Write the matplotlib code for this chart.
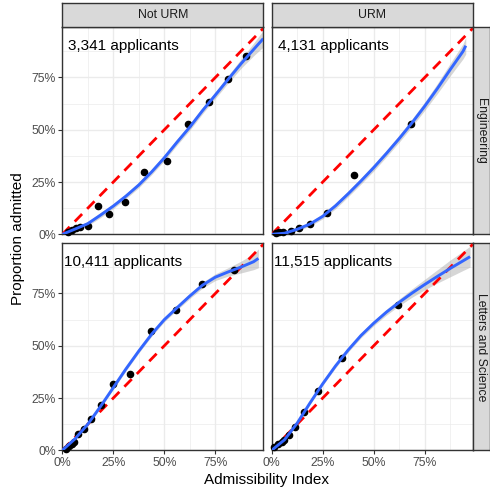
import numpy as np
import matplotlib
matplotlib.use("Agg")
import matplotlib.pyplot as plt
from matplotlib.ticker import FuncFormatter

plt.rcParams["font.family"] = ["Liberation Sans", "DejaVu Sans"]

# facet labels
col_labels = ["Not URM", "URM"]
row_labels = ["Engineering", "Letters and Science"]
n_labels = [["3,341 applicants", "4,131 applicants"],
            ["10,411 applicants", "11,515 applicants"]]

# binned points: admissibility index vs proportion admitted
eng_not_x = [0.029, 0.046, 0.065, 0.087, 0.124, 0.173, 0.230, 0.307, 0.402, 0.515, 0.614, 0.719, 0.810, 0.900]
eng_not_y = [0.013, 0.019, 0.032, 0.037, 0.041, 0.137, 0.096, 0.154, 0.299, 0.349, 0.527, 0.635, 0.744, 0.852]
eng_urm_x = [0.020, 0.038, 0.057, 0.095, 0.132, 0.188, 0.270, 0.404, 0.681]
eng_urm_y = [0.006, 0.010, 0.013, 0.014, 0.029, 0.048, 0.100, 0.282, 0.527]
ls_not_x = [0.016, 0.033, 0.049, 0.059, 0.078, 0.106, 0.141, 0.188, 0.250, 0.330, 0.436, 0.557, 0.686, 0.843]
ls_not_y = [0.008, 0.019, 0.029, 0.038, 0.076, 0.100, 0.148, 0.218, 0.315, 0.365, 0.572, 0.672, 0.795, 0.863]
ls_urm_x = [0.013, 0.029, 0.049, 0.062, 0.085, 0.114, 0.158, 0.225, 0.343, 0.621]
ls_urm_y = [0.016, 0.029, 0.040, 0.048, 0.075, 0.111, 0.183, 0.282, 0.443, 0.696]

# smoothed fits (value and standard-error band half width)
grid = [0, 0.0625, 0.125, 0.1875, 0.25, 0.3125, 0.375, 0.4375, 0.5, 0.5625, 0.625, 0.6875, 0.75, 0.8125, 0.875, 0.9375]
eng_not_fit = [0.0, 0.025, 0.051, 0.092, 0.135, 0.183, 0.236, 0.298, 0.366, 0.441, 0.513, 0.592, 0.666, 0.741, 0.815, 0.884]
eng_not_se = [0.008, 0.008, 0.01, 0.012, 0.012, 0.012, 0.013, 0.013, 0.014, 0.014, 0.015, 0.015, 0.016, 0.018, 0.022, 0.03]
eng_not_end = (0.985, 0.936, 0.04)
eng_urm_fit = [0.0, 0.005, 0.024, 0.049, 0.086, 0.136, 0.194, 0.255, 0.319, 0.387, 0.458, 0.533, 0.613, 0.698, 0.788, 0.875]
eng_urm_se = [0.006, 0.006, 0.008, 0.01, 0.012, 0.014, 0.014, 0.015, 0.016, 0.016, 0.017, 0.018, 0.02, 0.024, 0.03, 0.036]
eng_urm_end = (0.951, 0.902, 0.04)
ls_not_fit = [0.0, 0.055, 0.125, 0.21, 0.30, 0.39, 0.475, 0.555, 0.625, 0.682, 0.738, 0.79, 0.828, 0.853, 0.876, 0.902]
ls_not_se = [0.006, 0.006, 0.007, 0.008, 0.008, 0.009, 0.009, 0.01, 0.01, 0.011, 0.012, 0.014, 0.016, 0.02, 0.028, 0.038]
ls_not_end = (0.961, 0.918, 0.045)
ls_urm_fit = [0.0, 0.05, 0.13, 0.226, 0.318, 0.403, 0.48, 0.549, 0.608, 0.661, 0.708, 0.752, 0.793, 0.832, 0.87, 0.906]
ls_urm_se = [0.005, 0.005, 0.006, 0.007, 0.008, 0.009, 0.01, 0.011, 0.012, 0.014, 0.016, 0.02, 0.025, 0.032, 0.04, 0.046]
ls_urm_end = (0.972, 0.926, 0.05)

points = [[(eng_not_x, eng_not_y), (eng_urm_x, eng_urm_y)],
          [(ls_not_x, ls_not_y), (ls_urm_x, ls_urm_y)]]
fits = [[(eng_not_fit, eng_not_se, eng_not_end), (eng_urm_fit, eng_urm_se, eng_urm_end)],
        [(ls_not_fit, ls_not_se, ls_not_end), (ls_urm_fit, ls_urm_se, ls_urm_end)]]

xmax, ymax = 0.985, 0.99
W, H = 490, 491
lefts = [62.3, 271.7]
tops = [27.3, 243.3]
pw, ph = 201, 207

fig = plt.figure(figsize=(W / 100, H / 100), dpi=100)
pct = FuncFormatter(lambda v, p: f"{v * 100:.0f}%")

for r in range(2):
    for c in range(2):
        ax = fig.add_axes([lefts[c] / W, 1 - (tops[r] + ph) / H, pw / W, ph / H])
        ax.set_xlim(0, xmax)
        ax.set_ylim(0, ymax)
        ticks = [0, 0.25, 0.5, 0.75]
        minor = [0.125, 0.375, 0.625, 0.875]
        ax.set_xticks(ticks)
        ax.set_yticks(ticks)
        ax.set_xticks(minor, minor=True)
        ax.set_yticks(minor, minor=True)
        ax.grid(True, which="major", color="#EBEBEB", lw=1.0)
        ax.grid(True, which="minor", color="#EBEBEB", lw=0.5)
        ax.set_axisbelow(True)
        for s in ax.spines.values():
            s.set_color("#333333")
            s.set_linewidth(1.0)
        ax.tick_params(which="minor", length=0)
        ax.tick_params(which="major", length=3, width=0.8, color="#333333",
                       labelsize=8.8, labelcolor="#4D4D4D", pad=1.5)
        ax.xaxis.set_major_formatter(pct)
        ax.yaxis.set_major_formatter(pct)
        if r == 0:
            ax.tick_params(axis="x", length=0, labelbottom=False)
        if c == 1:
            ax.tick_params(axis="y", length=0, labelleft=False)

        fit, se, end = fits[r][c]
        fx = grid + [end[0]]
        fy = np.array(fit + [end[1]])
        fs = np.array(se + [end[2]])
        ax.fill_between(fx, fy - fs, fy + fs, color="#999999", alpha=0.4, lw=0, zorder=2)
        ax.plot([0, xmax], [0, xmax], color="red", lw=2.0, ls=(0, (3.8, 2.6)), zorder=3)
        px, py = points[r][c]
        ax.scatter(px, py, s=20, color="black", zorder=4, clip_on=False)
        ax.plot(fx, fy, color="#3366FF", lw=2.1, zorder=5, solid_capstyle="butt",
                solid_joinstyle="round")
        ax.text(0.30, 0.90, n_labels[r][c], ha="center", va="center", fontsize=11, color="black")

        # strips
        if r == 0:
            sax = fig.add_axes([lefts[c] / W, 1 - tops[0] / H, pw / W, 24 / H])
            sax.set_facecolor("#D9D9D9")
            sax.set_xticks([]); sax.set_yticks([])
            for s in sax.spines.values():
                s.set_color("#333333"); s.set_linewidth(1.0)
            sax.text(0.5, 0.5, col_labels[c], ha="center", va="center", fontsize=8.8,
                     color="#1A1A1A", transform=sax.transAxes)
        if c == 1:
            sax = fig.add_axes([(lefts[1] + pw) / W, 1 - (tops[r] + ph) / H, 17.5 / W, ph / H])
            sax.set_facecolor("#D9D9D9")
            sax.set_xticks([]); sax.set_yticks([])
            for s in sax.spines.values():
                s.set_color("#333333"); s.set_linewidth(1.0)
            sax.text(0.5, 0.5, row_labels[r], ha="center", va="center", fontsize=8.8,
                     color="#1A1A1A", rotation=-90, transform=sax.transAxes)

fig.text(267 / W, 1 - 480 / H, "Admissibility Index", ha="center", va="center", fontsize=11)
fig.text(18 / W, 1 - 239 / H, "Proportion admitted", ha="center", va="center", fontsize=11, rotation=90)

fig.savefig("out.png", dpi=100)
